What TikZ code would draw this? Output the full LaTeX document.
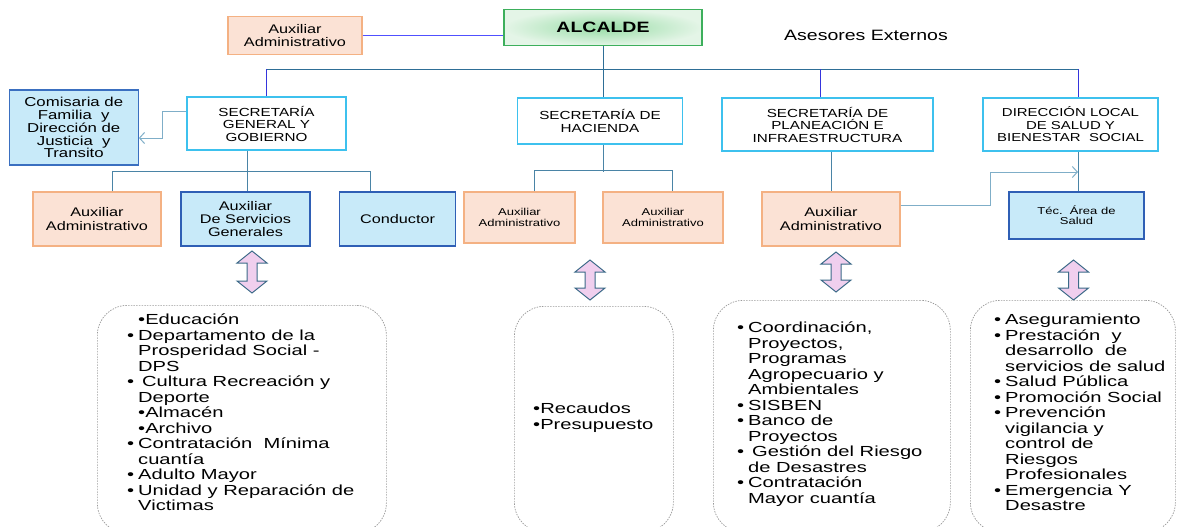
\documentclass[tikz,border=0pt]{standalone}
\usepackage{fontspec}
\setmainfont{Liberation Sans}[FakeStretch=1.3]
\newfontfamily\listfont{Liberation Sans}[FakeStretch=1.38]
\usetikzlibrary{arrows.meta}
\definecolor{peachF}{HTML}{FBE2D5}
\definecolor{peachD}{HTML}{F4B183}
\definecolor{lbF}{HTML}{C8EAF9}
\definecolor{lbD}{HTML}{2F5FB5}
\definecolor{comD}{HTML}{3A6FC0}
\definecolor{secD}{HTML}{3DC1EE}
\definecolor{busC}{HTML}{2E6E96}
\definecolor{dropC}{HTML}{3535DD}
\definecolor{topC}{HTML}{5050FF}
\definecolor{lowC}{HTML}{4A84A6}
\definecolor{arrC}{HTML}{7FAEC8}
\definecolor{pinkF}{HTML}{F0CFEE}
\definecolor{pinkD}{HTML}{3C6A88}
\definecolor{grnD}{HTML}{3DAF5C}
\definecolor{grnIn}{HTML}{98DCA6}
\definecolor{grnOut}{HTML}{E4F5E7}
\newcommand\fsz[2]{\fontsize{#1pt}{#2pt}\selectfont}
\newcommand\bl{\makebox[11pt][l]{•}}
\newcommand\ind{\hspace*{11pt}}
\newcommand\dblarr[3]{\draw[dbl] (#1,#2) -- (#1+15,#2+12) -- (#1+5,#2+12) -- (#1+5,#3-12) -- (#1+15,#3-12) -- (#1,#3) -- (#1-15,#3-12) -- (#1-5,#3-12) -- (#1-5,#2+12) -- (#1-15,#2+12) -- cycle;}
\begin{document}
\begin{tikzpicture}[x=1pt,y=-1pt,
  box/.style={line width=1.2pt, align=center, inner sep=0pt},
  peach/.style={box, draw=peachD, fill=peachF},
  lblue/.style={box, draw=lbD, fill=lbF},
  sec/.style={box, draw=secD, fill=white},
  bus/.style={draw=busC, line width=0.9pt},
  drop/.style={draw=dropC, line width=0.9pt},
  low/.style={draw=lowC, line width=1pt},
  carrow/.style={draw=arrC, line width=1pt, -{Straight Barb[length=5pt,width=11pt]}},
  listbox/.style={draw=gray!80, dash pattern=on 1.5pt off 1.2pt, rounded corners=30pt, line width=0.7pt, inner sep=0pt},
  listtxt/.style={align=left, anchor=north west, inner sep=0pt, font=\listfont\fsz{14.6}{15.5}},
  dbl/.style={draw=pinkD, fill=pinkF, line width=1pt, line join=miter}
]
\useasboundingbox (0,0) rectangle (1180,527);

% top level
\node[peach, minimum width=134, minimum height=38, font=\fsz{12.5}{13}] (aux0) at (295,35.5) {Auxiliar\\Administrativo};
\node[box, draw=grnD, inner color=grnIn, outer color=grnOut, minimum width=198, minimum height=36.5, font=\fsz{15}{16}\bfseries] (alc) at (603,27.5) {ALCALDE};
\node[inner sep=0pt, font=\fsz{15}{16}] (ases) at (866,35) {Asesores Externos};

% secretarias
\node[sec, minimum width=159, minimum height=53, font=\fsz{11.7}{12.5}] (sgg) at (266.5,123.5) {SECRETARÍA\\GENERAL Y\\GOBIERNO};
\node[sec, minimum width=165, minimum height=46, font=\fsz{11.7}{13.5}] (hac) at (600,121) {SECRETARÍA DE\\HACIENDA};
\node[sec, minimum width=211, minimum height=53, font=\fsz{11.7}{12.5}] (pla) at (827.5,124.5) {SECRETARÍA DE\\PLANEACIÓN E\\INFRAESTRUCTURA};
\node[sec, minimum width=175, minimum height=53, font=\fsz{11.5}{12.5}] (dir) at (1070.5,124.5) {DIRECCIÓN LOCAL\\DE SALUD Y\\BIENESTAR\ \ SOCIAL};
\node[lblue, draw=comD, minimum width=129, minimum height=75, font=\fsz{12.9}{12.9}] (com) at (73.75,127.5) {Comisaria de\\Familia\ \ y\\Dirección de\\Justicia\ \ y\\Transito};

% second row
\node[peach, minimum width=128, minimum height=54, font=\fsz{12.5}{13.3}] (a1) at (97,219) {Auxiliar\\Administrativo};
\node[lblue, minimum width=129, minimum height=54, font=\fsz{12.5}{13}] (a2) at (245.5,219) {Auxiliar\\De Servicios\\Generales};
\node[lblue, minimum width=116, minimum height=54, font=\fsz{12.5}{13}] (a3) at (397.5,219) {Conductor};
\node[peach, minimum width=111, minimum height=51, font=\fsz{10}{10.7}] (h1) at (519.5,217.5) {Auxiliar\\Administrativo};
\node[peach, minimum width=120, minimum height=51, font=\fsz{10}{10.7}] (h2) at (663,217.5) {Auxiliar\\Administrativo};
\node[peach, minimum width=138, minimum height=54, font=\fsz{12.5}{13.3}] (p1) at (831,219) {Auxiliar\\Administrativo};
\node[lblue, minimum width=135, minimum height=47, font=\fsz{10}{10}] (t1) at (1076.5,215.5) {Téc.\ \ Área de\\Salud};

% connectors top
\draw[draw=topC, line width=0.9pt] (aux0.east) -- (aux0.east -| alc.west);
\draw[bus] (alc.south) -- (alc.south |- hac.north);
\coordinate (bl) at (266.5,69.5);
\coordinate (bp) at (820,69.5);
\coordinate (br) at (1078,69.5);
\draw[bus] (bl) -- (br);
\draw[drop] (bl) -- (sgg.north);
\draw[drop] (bp) -- (bp |- pla.north);
\draw[drop] (br) -- (br |- dir.north);
\draw[carrow] ([yshift=12.5pt]sgg.west) -- ++(-24,0) |- ([yshift=-10.5pt]com.east);

% connectors lower
\draw[low] ([xshift=-19.5pt]sgg.south) -- ([xshift=1.5pt]a2.north);
\draw[low] ([xshift=15pt]a1.north) -- ++(0,-20) -| ([xshift=-27.5pt]a3.north);
\draw[low] ([xshift=3pt]hac.south) -- ++(0,27);
\draw[low] ([xshift=14.5pt]h1.north) -- ++(0,-21) -| ([xshift=9.5pt]h2.north);
\draw[low] (p1.north |- pla.south) -- (p1.north);
\draw[low] (dir.south -| br) -- (t1.north -| br);
\coordinate (jn) at (1078,172);
\draw[carrow] ([yshift=14pt]p1.east) -- ++(90,0) |- (jn);

% double arrows
\dblarr{252}{251}{293}
\dblarr{590}{260}{300}
\dblarr{836}{252}{292}
\dblarr{1073.5}{260}{300}

% list boxes
\node[listbox, minimum width=289, minimum height=228, anchor=north west] (lb1) at (97,305) {};
\node[listbox, minimum width=159, minimum height=226, anchor=north west] (lb2) at (514,306) {};
\node[listbox, minimum width=237, minimum height=232, anchor=north west] (lb3) at (713,300) {};
\node[listbox, minimum width=205, minimum height=232, anchor=north west] (lb4) at (970,300) {};

\node[listtxt] (l1) at (127,314) {\ind•Educación\\
\bl Departamento de la\\
\ind Prosperidad Social -\\
\ind DPS\\
\bl\hspace*{4pt}Cultura Recreación y\\
\ind Deporte\\
\ind•Almacén\\
\ind•Archivo\\
\bl Contratación\ \ Mínima\\
\ind cuantía\\
\bl Adulto Mayor\\
\bl Unidad y Reparación de\\
\ind Victimas};

\node[listtxt] (l2) at (533,403) {•Recaudos\\•Presupuesto};

\node[listtxt] (l3) at (737,322) {\bl Coordinación,\\
\ind Proyectos,\\
\ind Programas\\
\ind Agropecuario y\\
\ind Ambientales\\
\bl SISBEN\\
\bl Banco de\\
\ind Proyectos\\
\bl\hspace*{4pt}Gestión del Riesgo\\
\ind de Desastres\\
\bl Contratación\\
\ind Mayor cuantía};

\node[listtxt] (l4) at (994,314) {\bl Aseguramiento\\
\bl Prestación\ \ y\\
\ind desarrollo\ \ de\\
\ind servicios de salud\\
\bl Salud Pública\\
\bl Promoción Social\\
\bl Prevención\\
\ind vigilancia y\\
\ind control de\\
\ind Riesgos\\
\ind Profesionales\\
\bl Emergencia Y\\
\ind Desastre};
\end{tikzpicture}
\end{document}
